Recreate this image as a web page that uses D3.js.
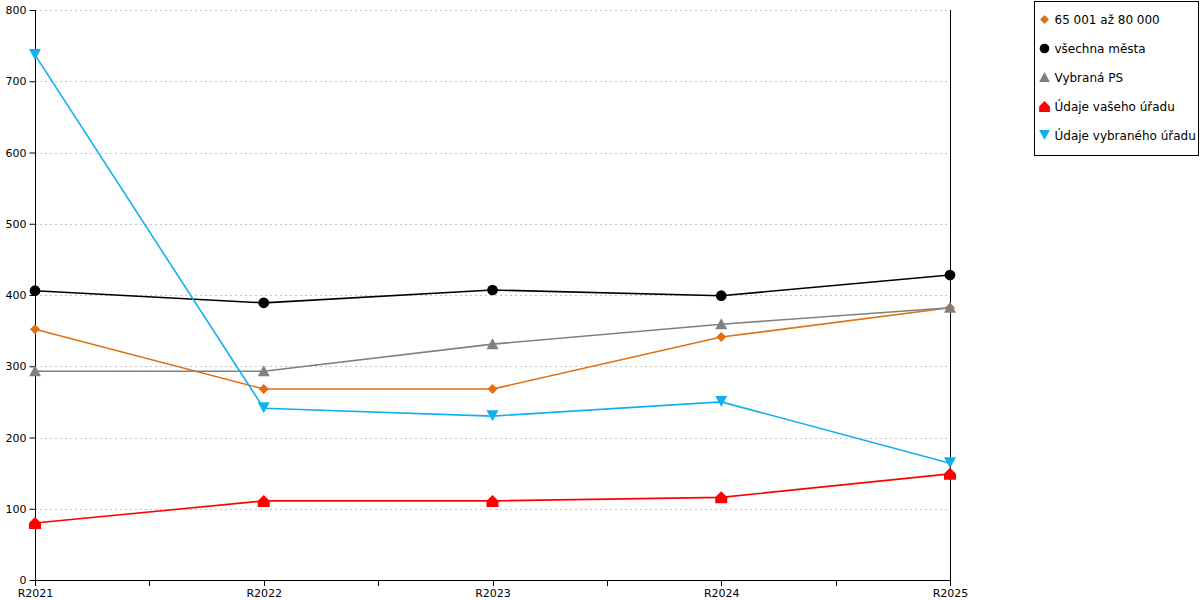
<!DOCTYPE html>
<html>
<head>
<meta charset="utf-8">
<script src="https://cdn.jsdelivr.net/npm/d3@7"></script>
<style>
  body { margin: 0; background: #fff; }
  text { font-family: "DejaVu Sans", Verdana, sans-serif; }
</style>
</head>
<body>
<div id="chart"></div>
<script>
// data
const years = ['R2021', 'R2022', 'R2023', 'R2024', 'R2025'];
const yTicks = [0, 100, 200, 300, 400, 500, 600, 700, 800];

const seriesNames = ['65 001 až 80 000', 'všechna města', 'Vybraná PS', 'Údaje vašeho úřadu', 'Údaje vybraného úřadu'];
const orangeVals = [352, 268, 268, 341, 382];
const blackVals = [406, 389, 407, 399, 428];
const grayVals = [293, 293, 331, 359, 382];
const redVals = [80, 111, 111, 116, 149];
const blueVals = [737, 241, 230, 250, 164];

const colors = ['#e07010', '#000000', '#808080', '#ff0000', '#10b0f0'];
const shapes = ['diamond', 'circle', 'triUp', 'house', 'triDown'];

const series = [orangeVals, blackVals, grayVals, redVals, blueVals].map((v, i) => ({
  name: seriesNames[i], values: v, color: colors[i], shape: shapes[i]
}));

const svgWidth = 1200, svgHeight = 600;
const margin = { top: 10, right: 250, bottom: 20, left: 35 };
const width = svgWidth - margin.left - margin.right;   // 915
const height = svgHeight - margin.top - margin.bottom; // 570

const svg = d3.select('#chart').append('svg')
  .attr('width', svgWidth).attr('height', svgHeight);
const g = svg.append('g').attr('transform', `translate(${margin.left},${margin.top})`);

const x = d3.scalePoint().domain(years).range([0, width]);
const y = d3.scaleLinear().domain([0, 800]).range([height, 0]);

// grid
g.append('g').selectAll('line').data(yTicks.filter(d => d > 0)).enter().append('line')
  .attr('x1', 0).attr('x2', width)
  .attr('y1', d => Math.round(y(d)) + 0.5).attr('y2', d => Math.round(y(d)) + 0.5)
  .attr('stroke', '#c4c4c4').attr('stroke-dasharray', '2,3');

// right border line
g.append('line').attr('x1', width + 0.5).attr('x2', width + 0.5)
  .attr('y1', 0).attr('y2', height).attr('stroke', '#000');

// axes
const yAxis = g.append('g').attr('transform', 'translate(0.5,0)')
  .call(d3.axisLeft(y).tickValues(yTicks).tickSize(6).tickPadding(3));
yAxis.select('.domain').attr('d', `M0,${height}V0`);
yAxis.selectAll('text').attr('font-size', 11).attr('fill', '#000');

const xAxis = g.append('g').attr('transform', `translate(0,${height + 0.5})`)
  .call(d3.axisBottom(x).tickSize(0).tickPadding(9));
xAxis.select('.domain').attr('d', `M0,0H${width}`);
xAxis.selectAll('text').attr('font-size', 11).attr('fill', '#000');

// x ticks at categories and halfway between them
const minor = [];
years.forEach((yr, i) => {
  minor.push(x(yr));
  if (i < years.length - 1) minor.push((x(yr) + x(years[i + 1])) / 2);
});
g.append('g').selectAll('line').data(minor).enter().append('line')
  .attr('x1', d => Math.round(d) + 0.5).attr('x2', d => Math.round(d) + 0.5)
  .attr('y1', height).attr('y2', height + 6).attr('stroke', '#000');

function markerPath(shape) {
  switch (shape) {
    case 'diamond': return 'M0,-5L5,0L0,5L-5,0Z';
    case 'circle': return d3.symbol(d3.symbolCircle, 90)();
    case 'triUp': return 'M0,-6L6,5L-6,5Z';
    case 'triDown': return 'M-6,-6L6,-6L0,5Z';
    case 'house': return 'M0,-6L6,0L6,6L-6,6L-6,0Z';
  }
}

const line = d3.line().x((d, i) => x(years[i])).y(d => y(d));

series.forEach(s => {
  g.append('path').datum(s.values)
    .attr('d', line).attr('fill', 'none')
    .attr('stroke', s.color).attr('stroke-width', 1.6);
});
series.forEach(s => {
  g.append('g').selectAll('path').data(s.values).enter().append('path')
    .attr('d', markerPath(s.shape))
    .attr('transform', (d, i) => `translate(${x(years[i])},${y(d)})`)
    .attr('fill', s.color);
});

// legend
const legend = svg.append('g').attr('transform', 'translate(1034.5,1.5)');
legend.append('rect').attr('width', 164).attr('height', 154)
  .attr('fill', '#fff').attr('stroke', '#000');
series.forEach((s, i) => {
  const row = legend.append('g').attr('transform', `translate(10,${18 + i * 29})`);
  row.append('path').attr('d', markerPath(s.shape))
    .attr('transform', 'scale(0.9)')
    .attr('fill', s.color);
  row.append('text').attr('x', 10).attr('y', 4)
    .attr('font-size', 12).attr('fill', '#000').text(s.name);
});
</script>
</body>
</html>
